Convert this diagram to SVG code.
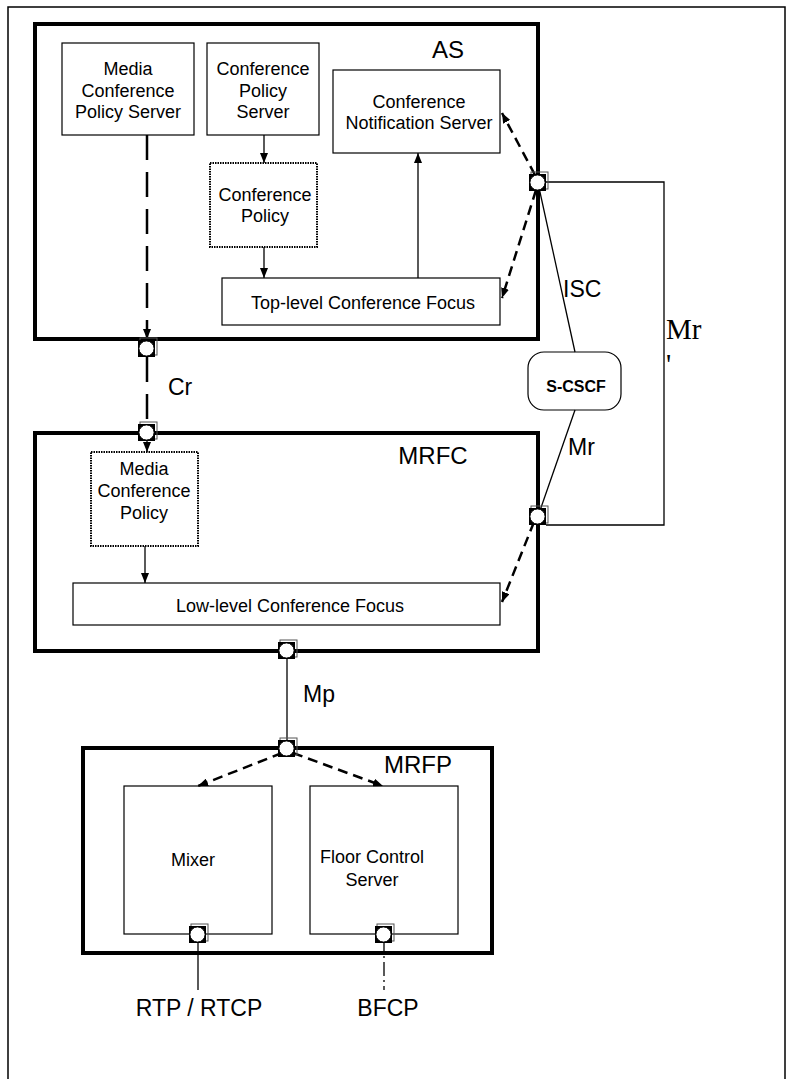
<svg xmlns="http://www.w3.org/2000/svg" width="787" height="1079" viewBox="0 0 787 1079">
<style>
text{font-family:"Liberation Sans",Arial,sans-serif;fill:#000}
.t{font-size:18px;text-anchor:middle}
.lbl{font-size:23px}
.big{font-size:24px;text-anchor:middle}
.serif{font-family:"Liberation Serif","Times New Roman",serif;font-size:29px}
.box{fill:#fff;stroke:#000;stroke-width:1.2}
.dot{fill:#fff;stroke:#000;stroke-width:2;stroke-dasharray:1.5 1}
.enc{fill:none;stroke:#000;stroke-width:4}
.ln{fill:none;stroke:#000;stroke-width:1.3}
.dl{fill:none;stroke:#000;stroke-width:2.5;stroke-dasharray:10 6}
.cr{fill:none;stroke:#000;stroke-width:2.5;stroke-dasharray:25 12}
</style>
<defs>
<marker id="ah" viewBox="0 0 10 8" refX="10" refY="4" markerWidth="10" markerHeight="8" markerUnits="userSpaceOnUse" orient="auto"><path d="M0,0 L10,4 L0,8 z" fill="#000"/></marker>
<g id="portsym"><rect x="-7" y="-10" width="17" height="17" fill="none" stroke="#555" stroke-width="1"/><rect x="-9" y="-8" width="17" height="17" fill="#000"/><circle cx="-0.5" cy="0.5" r="7.6" fill="#fff" stroke="#000" stroke-width="1"/></g>
</defs>
<rect x="8" y="7" width="777" height="1090" fill="none" stroke="#000" stroke-width="1.5"/>

<g id="AS"><rect class="enc" x="35" y="24" width="503" height="315"/><text class="big" x="448" y="58">AS</text></g>
<g id="MCPS"><rect class="box" x="62" y="43" width="132" height="92"/><text class="t" x="128" y="75">Media</text><text class="t" x="128" y="97">Conference</text><text class="t" x="128" y="118">Policy Server</text></g>
<g id="CPS"><rect class="box" x="207" y="43" width="112" height="92"/><text class="t" x="263" y="75">Conference</text><text class="t" x="263" y="97">Policy</text><text class="t" x="263" y="118">Server</text></g>
<g id="CP"><rect class="dot" x="210" y="163" width="107" height="84"/><text class="t" x="265" y="201">Conference</text><text class="t" x="265" y="222">Policy</text></g>
<g id="CNS"><rect class="box" x="333" y="70" width="167" height="83"/><text class="t" x="419" y="108">Conference</text><text class="t" x="419" y="129">Notification Server</text></g>
<g id="TLF"><rect class="box" x="222" y="278" width="278" height="47"/><text class="t" x="363" y="309">Top-level Conference Focus</text></g>

<g id="SCSCF"><rect class="box" x="528" y="352" width="93" height="58" rx="16"/><text x="576" y="392" font-size="16" font-weight="bold" text-anchor="middle">S-CSCF</text></g>

<g id="MRFC"><rect class="enc" x="35" y="433" width="503" height="218"/><text class="big" x="433" y="464">MRFC</text></g>
<g id="MCP"><rect class="dot" x="91" y="452" width="107" height="94"/><text class="t" x="144" y="475">Media</text><text class="t" x="144" y="497">Conference</text><text class="t" x="144" y="519">Policy</text></g>
<g id="LLF"><rect class="box" x="73" y="583" width="427" height="42"/><text class="t" x="290" y="612">Low-level Conference Focus</text></g>

<g id="MRFP"><rect class="enc" x="83" y="748" width="409" height="205"/><text class="big" x="418" y="773">MRFP</text></g>
<g id="Mixer"><rect class="box" x="124" y="786" width="148" height="148"/><text class="t" x="193" y="866">Mixer</text></g>
<g id="FCS"><rect class="box" x="310" y="786" width="148" height="148"/><text class="t" x="372" y="863">Floor Control</text><text class="t" x="372" y="886">Server</text></g>

<g id="connectors">
<line class="ln" x1="264" y1="135" x2="264" y2="163" marker-end="url(#ah)"/>
<line class="ln" x1="264" y1="247" x2="264" y2="278" marker-end="url(#ah)"/>
<line class="ln" x1="418" y1="278" x2="418" y2="153" marker-end="url(#ah)"/>
<line class="cr" x1="147" y1="135" x2="147" y2="339" marker-end="url(#ah)"/>
<line class="cr" x1="147" y1="357" x2="147" y2="424"/>
<line class="ln" x1="147" y1="440" x2="147" y2="452" stroke-width="1.8" marker-end="url(#ah)"/>
<line class="dl" x1="535" y1="175" x2="502" y2="113" marker-end="url(#ah)"/>
<line class="dl" x1="536" y1="190" x2="502" y2="298" marker-end="url(#ah)"/>
<line class="ln" x1="538" y1="183" x2="575" y2="352"/>
<line class="ln" x1="575" y1="410" x2="536" y2="522"/>
<polyline class="ln" points="546,182 664,182 664,525 546,525"/>
<line class="dl" x1="534" y1="522" x2="502" y2="602" marker-end="url(#ah)"/>
<line class="ln" x1="145" y1="546" x2="145" y2="583" marker-end="url(#ah)"/>
<line class="ln" x1="287" y1="658" x2="287" y2="742"/>
<line class="dl" x1="282" y1="753" x2="198" y2="786" marker-end="url(#ah)"/>
<line class="dl" x1="293" y1="753" x2="383" y2="786" marker-end="url(#ah)"/>
<line class="ln" x1="198" y1="938" x2="198" y2="990" stroke-width="1.8"/>
<line class="ln" x1="384" y1="938" x2="384" y2="990" stroke-width="1.8" stroke-dasharray="14 4 2 4"/>
</g>

<g id="ports">
<use href="#portsym" x="538" y="182"/>
<use href="#portsym" x="147" y="348"/>
<use href="#portsym" x="147" y="432"/>
<use href="#portsym" x="538" y="516"/>
<use href="#portsym" x="287" y="650"/>
<use href="#portsym" x="287" y="748"/>
<use href="#portsym" x="198" y="934"/>
<use href="#portsym" x="384" y="934"/>
</g>

<g id="labels">
<text class="lbl" x="168" y="395">Cr</text>
<text class="lbl" x="563" y="297">ISC</text>
<text class="lbl" x="568" y="455">Mr</text>
<text class="lbl" x="303" y="702">Mp</text>
<text class="serif" x="666" y="339">Mr</text>
<text class="serif" x="666" y="374">'</text>
<text class="lbl" x="199" y="1016" text-anchor="middle">RTP / RTCP</text>
<text class="lbl" x="388" y="1016" text-anchor="middle">BFCP</text>
</g>
</svg>
